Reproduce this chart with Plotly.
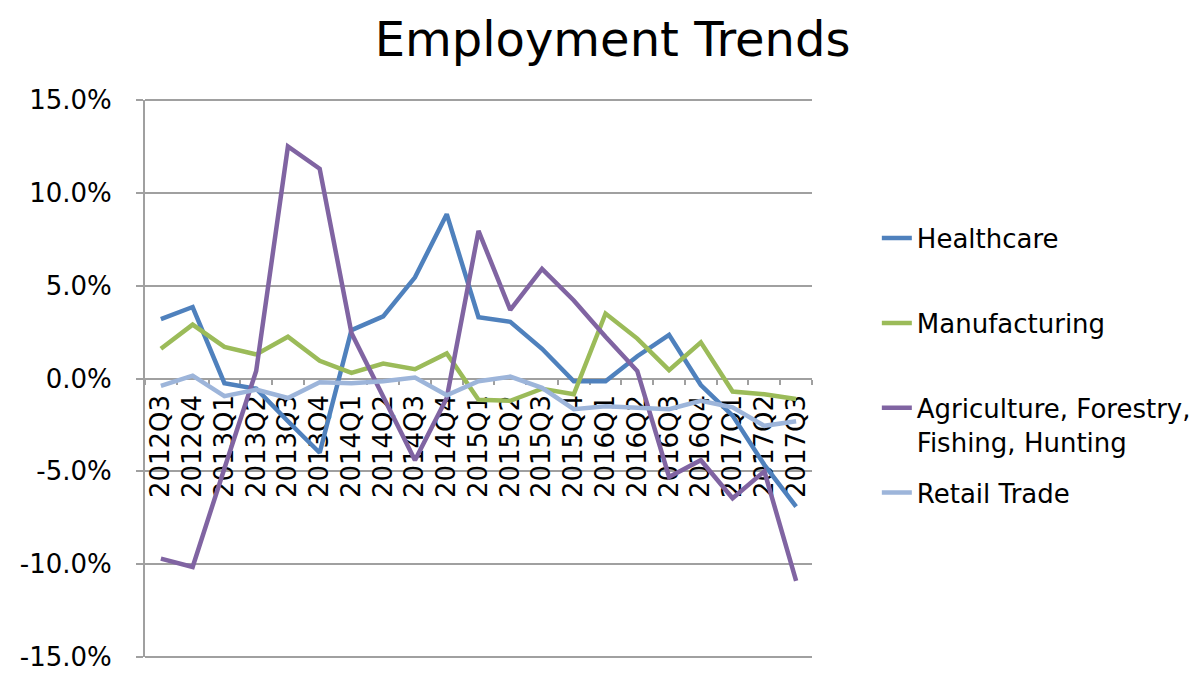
import plotly.graph_objects as go

quarters = ['2012Q3', '2012Q4', '2013Q1', '2013Q2', '2013Q3', '2013Q4', '2014Q1',
            '2014Q2', '2014Q3', '2014Q4', '2015Q1', '2015Q2', '2015Q3', '2015Q4',
            '2016Q1', '2016Q2', '2016Q3', '2016Q4', '2017Q1', '2017Q2', '2017Q3']

# variação trimestral em %
healthcare = [3.2, 3.85, -0.25, -0.55, -2.3, -4.0, 2.6, 3.35, 5.45, 8.85, 3.3,
              3.05, 1.6, -0.15, -0.15, 1.2, 2.35, -0.35, -2.0, -4.65, -6.9]
manufacturing = [1.6, 2.9, 1.7, 1.3, 2.25, 0.95, 0.3, 0.8, 0.5, 1.35, -1.15,
                 -1.2, -0.55, -0.85, 3.5, 2.15, 0.45, 1.95, -0.7, -0.85, -1.1]
agriculture = [-9.7, -10.15, -4.85, 0.4, 12.5, 11.3, 2.45, -1.0, -4.4, -1.05, 7.95,
               3.7, 5.9, 4.2, 2.25, 0.4, -5.3, -4.4, -6.45, -5.0, -10.9]
retail = [-0.4, 0.15, -0.95, -0.6, -1.05, -0.2, -0.25, -0.15, 0.05, -0.9, -0.15,
          0.1, -0.5, -1.65, -1.5, -1.6, -1.65, -1.2, -1.55, -2.55, -2.3]

y_ticks = [-15, -10, -5, 0, 5, 10, 15]
y_labels = ['-15.0%', '-10.0%', '-5.0%', '0.0%', '5.0%', '10.0%', '15.0%']

nomes = ['Healthcare', 'Manufacturing', 'Agriculture, Forestry,<br>Fishing, Hunting', 'Retail Trade']
series = [healthcare, manufacturing, agriculture, retail]
cores = ['#4F81BD', '#9BBB59', '#8064A2', '#9DB5DA']
legendas = ['legend', 'legend2', 'legend3', 'legend4']

fig = go.Figure()
for nome, vals, cor, leg in zip(nomes, series, cores, legendas):
    fig.add_trace(go.Scatter(x=quarters, y=vals, mode='lines', name=nome,
                             line=dict(color=cor, width=4.5), legend=leg))

fonte = dict(family='DejaVu Sans, Verdana, sans-serif', size=26, color='black')

# uma legenda por série para reproduzir o espaçamento do Excel
def leg(y):
    return dict(x=1.0972, y=y, xanchor='left', yanchor='middle', valign='top',
                font=fonte, bgcolor='rgba(0,0,0,0)')

# linhas de grade nas bordas (o plotly não desenha em 15% e -15%)
for yp in [0, 1]:
    fig.add_shape(type='line', xref='paper', yref='paper', x0=0, x1=1, y0=yp, y1=yp,
                  line=dict(color='#a0a0a0', width=2), layer='below')

# a página tem 8px de margem no body, por isso as margens estão deslocadas
fig.update_layout(
    width=1202, height=676,
    margin=dict(l=125, r=398, t=92, b=20),
    paper_bgcolor='white', plot_bgcolor='white',
    showlegend=True,
    title=dict(text='Employment Trends', x=0.503, xanchor='center', y=0.979, yanchor='top',
               font=dict(family='DejaVu Sans, Verdana, sans-serif', size=48, color='black')),
    font=fonte,
    legend=leg(0.752), legend2=leg(0.5993), legend3=leg(0.417), legend4=leg(0.295),
    xaxis=dict(type='category', range=[-0.5, 20.5], anchor='free', position=0.5,
               showline=True, linecolor='#a0a0a0', linewidth=2, ticks='outside',
               tickson='boundaries', ticklen=5, tickcolor='#a0a0a0', tickwidth=2,
               tickangle=-90, showgrid=False, layer='below traces', tickfont=fonte,
               ticklabelstandoff=5),
    yaxis=dict(range=[-15, 15], tickvals=y_ticks, ticktext=y_labels,
               showline=True, linecolor='#a0a0a0', linewidth=2, ticks='outside',
               ticklen=7, tickcolor='#a0a0a0', tickwidth=2, showgrid=True,
               gridcolor='#a0a0a0', gridwidth=2, zeroline=False, layer='below traces',
               tickfont=fonte, ticklabelstandoff=19),
)

fig.write_html('out.html')
